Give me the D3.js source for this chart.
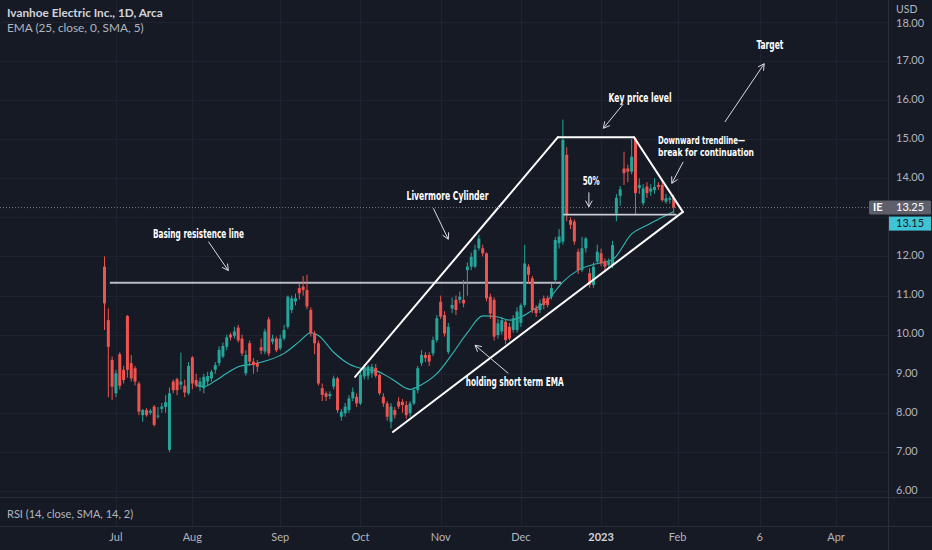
<!DOCTYPE html>
<html><head><meta charset="utf-8">
<script src="https://cdn.jsdelivr.net/npm/d3@7/dist/d3.min.js"></script>
<style>
html,body{margin:0;padding:0;background:#161a25;overflow:hidden;}
svg{display:block;}
</style></head>
<body>
<svg id="c" width="932" height="550"></svg>
<script>
// ---------- DATA ----------
const openP = [11.74,10.37,9.35,8.50,9.50,9.10,10.48,9.27,9.14,8.75,7.94,8.07,8.00,8.16,7.90,8.10,8.15,7.05,8.80,8.86,
8.72,8.69,8.50,9.42,8.84,8.67,8.63,8.80,8.88,9.10,9.27,9.44,9.69,10.00,9.97,10.18,9.90,9.01,9.78,9.31,
9.27,9.68,9.57,10.39,9.82,9.90,9.65,9.90,10.20,10.63,10.85,11.19,11.23,11.14,10.63,10.03,9.78,8.63,8.50,8.43,
8.67,8.88,7.90,7.99,8.07,8.37,8.41,8.24,8.93,8.95,9.01,9.15,8.97,8.41,8.24,7.77,8.07,8.29,8.28,8.20,
7.99,8.24,8.58,9.27,9.48,9.48,9.52,9.86,10.84,10.50,9.56,10.67,10.89,10.89,10.89,11.65,11.74,11.74,12.21,12.21,
12.08,10.97,10.89,9.99,10.08,10.33,10.20,10.12,10.12,10.30,10.76,11.74,11.44,10.67,10.63,10.93,10.93,10.97,11.40,12.34,
12.38,14.60,12.93,12.89,12.12,11.65,12.21,11.57,11.27,11.87,12.08,11.87,11.78,11.78,13.10,13.55,14.25,14.25,14.17,15.02,
13.75,13.36,13.79,13.66,13.70,13.83,13.83,13.40,13.45,13.50];
const highP = [12.00,10.67,9.44,9.10,9.55,9.20,10.50,9.48,9.20,8.80,8.10,8.12,8.10,8.20,8.15,8.25,8.45,8.65,8.85,8.90,
9.54,8.85,9.30,9.45,9.00,8.90,9.00,9.05,9.10,9.30,9.70,9.80,10.00,10.05,10.20,10.25,10.00,9.60,9.85,9.40,
9.35,9.90,10.15,10.45,10.00,9.95,10.00,10.25,11.00,11.00,11.05,11.30,11.50,11.53,10.70,10.10,9.85,8.75,8.55,8.55,
8.95,8.92,8.10,8.25,8.45,8.65,8.50,9.05,9.25,9.22,9.25,9.25,9.00,8.50,8.30,8.25,8.15,8.40,8.35,8.30,
8.30,8.65,9.20,9.60,9.55,9.55,9.95,10.50,11.00,10.60,10.30,10.95,11.00,11.10,11.40,11.85,12.10,12.30,12.55,12.30,
12.10,11.05,10.95,10.40,10.45,10.40,10.30,10.50,10.70,10.80,12.30,11.80,11.50,10.75,10.90,11.00,11.00,11.30,12.50,12.70,
15.50,14.80,13.00,12.95,12.20,12.50,12.50,11.70,11.85,12.30,12.20,11.95,11.95,12.40,13.60,13.80,14.68,14.35,15.00,15.05,
14.00,13.85,13.90,13.85,14.00,13.90,13.95,13.60,13.55,13.58];
const lowP = [10.12,8.40,8.33,8.40,8.60,8.75,8.90,8.80,8.70,7.94,7.77,7.90,7.95,7.65,7.85,8.00,8.00,7.00,8.50,8.45,
8.60,8.40,8.45,8.60,8.65,8.55,8.50,8.70,8.80,9.00,9.20,9.40,9.60,9.85,9.90,9.80,9.45,8.95,9.20,9.00,
9.05,9.50,9.50,9.45,9.75,9.55,9.60,9.85,10.15,10.55,10.75,10.90,11.00,10.65,9.95,9.50,8.70,8.30,8.30,8.35,
8.60,8.00,7.80,7.90,8.00,8.30,8.15,8.20,8.85,8.85,8.90,8.90,8.45,8.15,7.80,7.60,7.85,8.10,8.00,7.85,
7.90,8.20,8.50,9.20,9.30,9.20,9.45,9.80,10.40,9.95,9.50,10.55,10.50,10.80,10.70,11.00,11.65,11.70,12.15,12.00,
10.85,10.40,9.85,9.90,10.00,9.75,9.85,10.05,10.05,10.20,10.70,11.30,10.55,10.45,10.55,10.65,10.70,10.90,11.30,12.20,
12.30,12.90,12.70,12.30,11.55,11.60,12.10,11.20,11.20,11.80,11.75,11.60,11.70,11.70,12.90,13.30,13.83,13.90,14.10,13.06,
13.60,13.30,13.50,13.55,13.60,13.70,13.40,13.35,13.35,13.10];
const closeP = [10.80,9.69,8.67,9.01,8.69,8.84,9.10,8.88,8.80,8.03,8.07,7.94,8.05,7.69,7.93,8.16,8.27,8.50,8.58,8.58,
8.80,8.52,9.20,8.75,8.71,8.80,8.92,8.94,9.05,9.22,9.61,9.71,9.93,9.93,10.08,9.85,9.52,9.48,9.31,9.22,
9.18,9.59,10.08,9.52,9.90,9.60,9.90,10.12,10.97,10.93,10.93,11.06,11.14,10.72,10.03,9.78,8.75,8.46,8.41,8.48,
8.88,8.07,8.03,8.16,8.37,8.54,8.24,8.97,9.18,9.18,9.18,8.95,8.50,8.24,7.90,8.16,7.94,8.16,8.20,7.94,
8.24,8.58,9.14,9.48,9.40,9.31,9.86,10.42,10.46,10.03,10.20,10.76,10.63,10.97,10.80,11.74,11.99,12.17,12.46,12.08,
10.93,10.54,9.95,10.29,10.37,9.86,9.90,10.42,10.59,10.75,11.82,11.53,10.63,10.55,10.80,10.76,10.76,11.19,12.42,12.51,
14.98,13.06,12.81,12.38,11.65,12.21,12.46,11.27,11.74,12.12,11.82,11.74,11.87,12.29,13.50,13.72,14.13,14.17,14.55,13.62,
13.83,13.74,13.62,13.74,13.78,13.78,13.44,13.49,13.49,13.25];

// EMA(25) smoothed at bar indexes
const emaIdx = [24,26,29,32,35,39,43,47,51,54,56,60,64,68,71,75,80,83,87,91,95,99,103,106,109,112,116,120,124,129,133,138,142,146,149];
const emaVal = [8.70,8.67,8.82,9.01,9.18,9.25,9.35,9.52,9.82,10.05,9.98,9.55,9.25,9.12,9.08,8.88,8.60,8.72,9.00,9.50,10.05,10.48,10.45,10.37,10.45,10.62,10.88,11.35,11.65,11.82,11.92,12.58,12.80,13.00,13.15];

const gridTicks = [6,7,8,9,10,11,12,13,14,15,16,17,18];
const priceTicks = [6,7,8,9,10,11,12,14,15,16,17,18];   // 13.00 is hidden by the price tag
const timeLabels = ["Jul","Aug","Sep","Oct","Nov","Dec","2023","Feb","6","Apr"];
const timeIdx = [3,23,46,67,88,109,130,150,171.5,191.5];
const lastPrice = 13.25, lastEma = 13.15;

// drawings (bar index, price)
const basingLine = [[1.4,11.33],[119.5,11.33]];
const cylinder = [[[65.6,8.92],[118.7,15.05]],[[118.7,15.05],[138.6,15.05]],[[138.6,15.05],[151.4,13.14]],
                  [[75.5,7.51],[151.4,13.14]],[[120.3,13.07],[149.6,13.07]]];
const arrows = [
  [[162.4,15.44],[172.7,16.93]],
  [[135.8,15.90],[130.6,15.28]],
  [[151.5,14.42],[148.5,13.87]],
  [[126.8,13.64],[126.8,13.27]],
  [[86.1,13.23],[90.0,12.44]],
  [[27.2,12.38],[32.4,11.64]],
  [[105.7,9.01],[97.0,9.73]]
];
const notes = [
  {t:"Target", i:174.2, p:17.40, w:27, s:11.5},
  {t:"Key price level", i:140.2, p:16.03, w:63, s:11.5},
  {t:"Downward trendline\u2014", i:144.9, p:14.96, w:87, a:"start", s:10.5},
  {t:"break for continuation", i:144.9, p:14.64, w:96, a:"start", s:10.5},
  {t:"50%", i:127.4, p:13.93, w:17, s:11.5},
  {t:"Livermore Cylinder", i:89.8, p:13.53, w:82, s:11.5},
  {t:"Basing resistence line", i:24.6, p:12.57, w:91, s:11.5},
  {t:"holding short term EMA", i:107.4, p:8.78, w:98, s:11.5}
];

// ---------- CHART ----------
const W = 932, H = 550, axisX = 888;
const svg = d3.select("#c");
const x = d3.scaleLinear().domain([0, 200]).range([104.5, 104.5 + 200*3.82]);
const y = d3.scaleLinear().domain([6, 17]).range([491, 61]);

svg.append("rect").attr("width",W).attr("height",H).attr("fill","#161a25");

// grid
const grid = svg.append("g");
grid.selectAll("line.h").data(gridTicks).join("line")
  .attr("x1",0).attr("x2",axisX).attr("y1",d=>Math.round(y(d))+0.5).attr("y2",d=>Math.round(y(d))+0.5)
  .attr("stroke","#1f2330").attr("stroke-width",1);
grid.selectAll("line.v").data(timeIdx).join("line")
  .attr("x1",d=>Math.round(x(d))+0.5).attr("x2",d=>Math.round(x(d))+0.5).attr("y1",0).attr("y2",526)
  .attr("stroke","#1f2330").attr("stroke-width",1);

// pane separators
svg.append("line").attr("x1",0).attr("x2",W).attr("y1",497.5).attr("y2",497.5).attr("stroke","#2a2e39");
svg.append("line").attr("x1",0).attr("x2",W).attr("y1",526.5).attr("y2",526.5).attr("stroke","#2a2e39");
svg.append("line").attr("x1",axisX+0.5).attr("x2",axisX+0.5).attr("y1",0).attr("y2",H).attr("stroke","#2a2e39");

const main = svg.append("g");
// basing line
main.append("line")
  .attr("x1",x(basingLine[0][0])).attr("y1",y(basingLine[0][1]))
  .attr("x2",x(basingLine[1][0])).attr("y2",y(basingLine[1][1]))
  .attr("stroke","#b8bcc6").attr("stroke-width",2);

// EMA line
const emaPts = emaIdx.map((d,k)=>[d, emaVal[k]]);
main.append("path").datum(emaPts)
  .attr("d", d3.line().x(d=>x(d[0])).y(d=>y(d[1])).curve(d3.curveMonotoneX))
  .attr("fill","none").attr("stroke","#33b8b3").attr("stroke-width",1.1);

// candles
const bars = d3.range(openP.length).map(i=>({i, o:openP[i], h:highP[i], l:lowP[i], c:closeP[i]}));
const up = "#26a69a", dn = "#ef5350";
const cg = main.append("g");
cg.selectAll("line").data(bars).join("line")
  .attr("x1",d=>x(d.i)).attr("x2",d=>x(d.i)).attr("y1",d=>y(d.h)).attr("y2",d=>y(d.l))
  .attr("stroke",d=>d.c>=d.o?up:dn).attr("stroke-width",1);
cg.selectAll("rect").data(bars).join("rect")
  .attr("x",d=>x(d.i)-1.5).attr("width",3)
  .attr("y",d=>y(Math.max(d.o,d.c)))
  .attr("height",d=>Math.max(1, Math.abs(y(d.o)-y(d.c))))
  .attr("fill",d=>d.c>=d.o?up:dn);

// cylinder drawings
main.selectAll("line.cyl").data(cylinder).join("line")
  .attr("x1",d=>x(d[0][0])).attr("y1",d=>y(d[0][1])).attr("x2",d=>x(d[1][0])).attr("y2",d=>y(d[1][1]))
  .attr("stroke",(d,k)=>k===4?"#c8ccd4":"#ffffff").attr("stroke-width",(d,k)=>k===4?1.6:2)
  .attr("stroke-linecap","round");

// arrows
const ag = main.append("g").attr("stroke","#d9dbe0").attr("stroke-width",1).attr("fill","none");
arrows.forEach(a=>{
  const x1=x(a[0][0]), y1=y(a[0][1]), x2=x(a[1][0]), y2=y(a[1][1]);
  ag.append("line").attr("x1",x1).attr("y1",y1).attr("x2",x2).attr("y2",y2);
  const ang = Math.atan2(y2-y1, x2-x1), L = 7, s = 0.5;
  const p1 = [x2 - L*Math.cos(ang - s), y2 - L*Math.sin(ang - s)];
  const p2 = [x2 - L*Math.cos(ang + s), y2 - L*Math.sin(ang + s)];
  ag.append("path").attr("d",`M${p1[0]},${p1[1]}L${x2},${y2}L${p2[0]},${p2[1]}`);
});

// annotation texts
main.selectAll("text.note").data(notes).join("text")
  .attr("x",d=>x(d.i)).attr("y",d=>y(d.p))
  .attr("text-anchor",d=>d.a||"middle").attr("dominant-baseline","middle")
  .attr("fill","#ffffff").attr("font-family","'Liberation Sans Narrow','DejaVu Sans Condensed',Lato,sans-serif")
  .attr("font-weight","bold").attr("font-size",d=>d.s)
  .attr("textLength",d=>d.w).attr("lengthAdjust","spacingAndGlyphs")
  .text(d=>d.t);

// last price line (dotted)
svg.append("line").attr("x1",0).attr("x2",869).attr("y1",y(lastPrice)).attr("y2",y(lastPrice))
  .attr("stroke","#787b86").attr("stroke-width",1).attr("stroke-dasharray","1,2");

// price axis labels
const axisFont = "Lato, 'Noto Sans', sans-serif";
svg.selectAll("text.pt").data(priceTicks).join("text")
  .attr("x",896).attr("y",d=>y(d)+(d===18?2:0)).attr("dominant-baseline","middle")
  .attr("fill","#b2b5be").attr("font-size",11).attr("font-family",axisFont)
  .text(d=>d3.format(".2f")(d));
svg.append("rect").attr("x",axisX+1).attr("y",0).attr("width",W-axisX).attr("height",19).attr("fill","#161a25");
svg.append("text").attr("x",896).attr("y",10).attr("dominant-baseline","middle")
  .attr("fill","#b2b5be").attr("font-size",10.5).attr("font-family",axisFont).text("USD");

// last price label
const yl = y(lastPrice);
svg.append("rect").attr("x",869).attr("y",yl-7).attr("width",62).attr("height",14).attr("rx",1.5).attr("fill","#5d606b");
svg.append("text").attr("x",873).attr("y",yl+0.5).attr("dominant-baseline","middle").attr("fill","#ffffff")
  .attr("font-size",11).attr("font-weight","bold").attr("font-family",axisFont).text("IE");
svg.append("text").attr("x",896).attr("y",yl+0.5).attr("dominant-baseline","middle").attr("fill","#ffffff")
  .attr("font-size",11).attr("font-family",axisFont).text(lastPrice.toFixed(2));
const ye = yl + 16;
svg.append("rect").attr("x",axisX+1).attr("y",ye-7).attr("width",42).attr("height",14).attr("fill","#3fc4d6");
svg.append("text").attr("x",896).attr("y",ye+0.5).attr("dominant-baseline","middle").attr("fill","#131722")
  .attr("font-size",11).attr("font-family",axisFont).text(lastEma.toFixed(2));

// time axis
svg.selectAll("text.tl").data(timeLabels).join("text")
  .attr("x",(d,k)=>x(timeIdx[k])).attr("y",538).attr("text-anchor","middle").attr("dominant-baseline","middle")
  .attr("fill",d=>d==="2023"?"#d1d4dc":"#b2b5be").attr("font-weight",d=>d==="2023"?"bold":"normal")
  .attr("font-size",11).attr("font-family",axisFont).text(d=>d);

// legends
svg.append("text").attr("x",7).attr("y",14).attr("dominant-baseline","middle")
  .attr("fill","#d1d4dc").attr("font-weight","bold").attr("font-size",11.8).attr("font-family",axisFont)
  .text("Ivanhoe Electric Inc., 1D, Arca");
svg.append("text").attr("x",7).attr("y",29).attr("dominant-baseline","middle")
  .attr("fill","#b2b5be").attr("font-size",11.8).attr("font-family",axisFont)
  .text("EMA (25, close, 0, SMA, 5)");
svg.append("text").attr("x",7).attr("y",515).attr("dominant-baseline","middle")
  .attr("fill","#b2b5be").attr("font-size",11).attr("font-family",axisFont)
  .text("RSI (14, close, SMA, 14, 2)");
</script>
</body></html>
